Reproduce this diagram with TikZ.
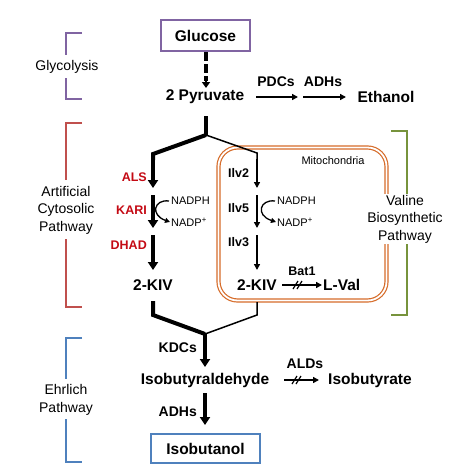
\documentclass[tikz,border=0pt]{standalone}
\usepackage{fontspec}
\setmainfont{Liberation Sans}
\usetikzlibrary{arrows.meta}
\definecolor{cpurple}{HTML}{8064A2}
\definecolor{cred}{HTML}{C0504D}
\definecolor{cblue}{HTML}{4F81BD}
\definecolor{cgreen}{HTML}{77933C}
\definecolor{corange}{RGB}{214,108,42}
\definecolor{ctext}{RGB}{196,10,20}
\tikzset{
  main/.style={font=\fontsize{15.5}{18}\selectfont\bfseries, inner sep=0pt},
  enz/.style={font=\fontsize{14}{17}\selectfont\bfseries, inner sep=0pt},
  redenz/.style={font=\fontsize{12.5}{15}\selectfont\bfseries, text=ctext, inner sep=0pt},
  ilv/.style={font=\fontsize{12.5}{15}\selectfont\bfseries, inner sep=0pt},
  cof/.style={font=\fontsize{11}{13}\selectfont, inner sep=0pt},
  brtext/.style={font=\fontsize{14}{17.5}\selectfont, align=center, inner sep=0pt},
  thickarr/.style={line width=4pt, -{Triangle[length=8pt,width=10pt]}, line join=miter},
  thinarr/.style={line width=1.5pt, -{Triangle[length=6pt,width=6pt]}},
  thinline/.style={line width=1.5pt, line join=miter},
  thickline/.style={line width=4pt, line join=miter},
  curv/.style={line width=1.3pt, -{Triangle[length=5pt,width=5pt]}},
  brk/.style={line width=2pt},
  hash/.style={line width=1.2pt},
}
\begin{document}
\begin{tikzpicture}[x=1pt,y=-1pt]
\useasboundingbox (0,0) rectangle (454,472);

% brackets
\node[brtext] (glyc) at (67,67) {Glycolysis};
\draw[brk,cpurple] (82,33) -- (66,33) -- (66,55);
\draw[brk,cpurple] (66,78) -- (66,99) -- (82,99);
\node[brtext] (acp) at (66,210) {Artificial\\Cytosolic\\Pathway};
\draw[brk,cred] (82,123) -- (66,123) -- (66,180);
\draw[brk,cred] (66,239) -- (66,307) -- (82,307);
\node[brtext] (ehr) at (66,400) {Ehrlich\\Pathway};
\draw[brk,cblue] (82,338) -- (66,338) -- (66,379);
\draw[brk,cblue] (66,419) -- (66,462) -- (82,462);

% mitochondria
\draw[corange, line width=1.2pt, double=white, double distance=1.8pt, rounded corners=19pt]
  (218.5,147.5) rectangle (386.5,300.5);
\node[cof] (mito) at (333,161) {Mitochondria};

\node[brtext, fill=white, inner sep=1pt] (vbp) at (405,219) {Valine\\Biosynthetic\\Pathway};
\coordinate (gt) at (407,131);
\coordinate (gb) at (407,315);
\draw[brk,cgreen] (391,131) -- (gt) -- (gt |- vbp.north);
\draw[brk,cgreen] (gb |- vbp.south) -- (gb) -- (391,315);

% top
\node[main, draw=cpurple, line width=2pt, minimum width=89pt, minimum height=31pt] (glc) at (205.5,35.5) {Glucose};
\node[main] (pyr) at (205,97) {2 Pyruvate};
\coordinate (d1) at (206,88);
\draw[line width=3.5pt, dash pattern=on 9pt off 3pt] (glc.south -| d1) -- (206,81);
\draw[line width=1.5pt, -{Triangle[length=6pt,width=8pt]}] (206,80) -- (d1);

\node[main] (eth) at (386,97) {Ethanol};
\coordinate (p1) at (256,97); \coordinate (p2) at (298,97);
\coordinate (p3) at (303,97); \coordinate (p4) at (346,97);
\draw[thinarr] (p1) -- (p2);
\draw[thinarr] (p3) -- (p4);
\node[enz] (pdc) at (276,82) {PDCs};
\node[enz] (adh1) at (323,82) {ADHs};

% branching
\coordinate (b0) at (206,116);
\coordinate (bs) at (206,135);
\coordinate (l1) at (153,154);
\coordinate (r1) at (257,153);
\coordinate (la) at (153,188);
\coordinate (ra) at (257,188);
\draw[thickline] (b0) -- (bs);
\draw[thinline] (bs) -- (r1) -- (257,160);
\draw[thinarr] (257,159) -- (ra);
\draw[thickline] (bs) -- (l1) -- (153,160);
\draw[thickarr] (153,159) -- (la);

% left column
\coordinate (lk1) at (153,195); \coordinate (lk2) at (153,228);
\coordinate (ld1) at (153,235); \coordinate (ld2) at (153,270);
\draw[thickarr] (lk1) -- (lk2);
\draw[thickarr] (ld1) -- (ld2);
\node[redenz, anchor=east] (als) at (147,177) {ALS};
\node[redenz, anchor=east] (kari) at (147,210) {KARI};
\node[redenz, anchor=east] (dhad) at (147,245) {DHAD};
\node[cof, anchor=west] (nadph1) at (171,201) {NADPH};
\node[cof, anchor=west] (nadp1) at (171,222) {NADP\textsuperscript{+}};
\draw[curv] ([xshift=-2pt]nadph1.west) .. controls (154,199) and (150,215) .. ([xshift=-1pt]nadp1.west);
\node[main] (kivl) at (153,285) {2-KIV};

% right column
\coordinate (rk1) at (257,195); \coordinate (rk2) at (257,228);
\coordinate (rd1) at (257,235); \coordinate (rd2) at (257,270);
\draw[thinarr] (rk1) -- (rk2);
\draw[thinarr] (rd1) -- (rd2);
\node[ilv, anchor=west] (ilv2) at (228,173) {Ilv2};
\node[ilv, anchor=west] (ilv5) at (228,208) {Ilv5};
\node[ilv, anchor=west] (ilv3) at (228,242) {Ilv3};
\node[cof, anchor=west] (nadph2) at (277,201) {NADPH};
\node[cof, anchor=west] (nadp2) at (277,222) {NADP\textsuperscript{+}};
\draw[curv] ([xshift=-2pt]nadph2.west) .. controls (260,199) and (255,215) .. ([xshift=-1pt]nadp2.west);
\node[main] (kivr) at (257,285) {2-KIV};
\node[main, anchor=west] (lval) at (323,285) {L-Val};
\node[ilv] (bat) at (302,271) {Bat1};
\draw[thinarr] ([xshift=5pt]kivr.east) -- ([xshift=-1pt]lval.west);
\draw[hash] (293,289) -- (298,281);
\draw[hash] (297,289) -- (302,281);

% merge
\coordinate (m0) at (205,334);
\coordinate (ml) at (153,301);
\coordinate (mr) at (257,302);
\coordinate (mk) at (205,367);
\draw[thickline] (ml) -- (153,315) -- (m0);
\draw[thinline] (mr) -- (257,315) -- (m0);
\draw[thickarr] (m0) -- (mk);
\node[enz, anchor=east] (kdc) at (197,348) {KDCs};

\node[main] (iba) at (205,380) {Isobutyraldehyde};
\node[main, anchor=west] (ibr) at (328,380) {Isobutyrate};
\coordinate (a1) at (284,380);
\coordinate (a2) at (319,380);
\draw[thinarr] (a1) -- (a2);
\draw[hash] (292,384) -- (297,376);
\draw[hash] (296,384) -- (301,376);
\node[enz] (ald) at (305,364) {ALDs};

\coordinate (e1) at (205,393); \coordinate (e2) at (205,425);
\draw[thickarr] (e1) -- (e2);
\node[enz, anchor=east] (adh2) at (197,412) {ADHs};
\node[main, draw=cblue, line width=2pt, minimum width=109pt, minimum height=29pt] (ibu) at (205.5,448.5) {Isobutanol};
\end{tikzpicture}
\end{document}
